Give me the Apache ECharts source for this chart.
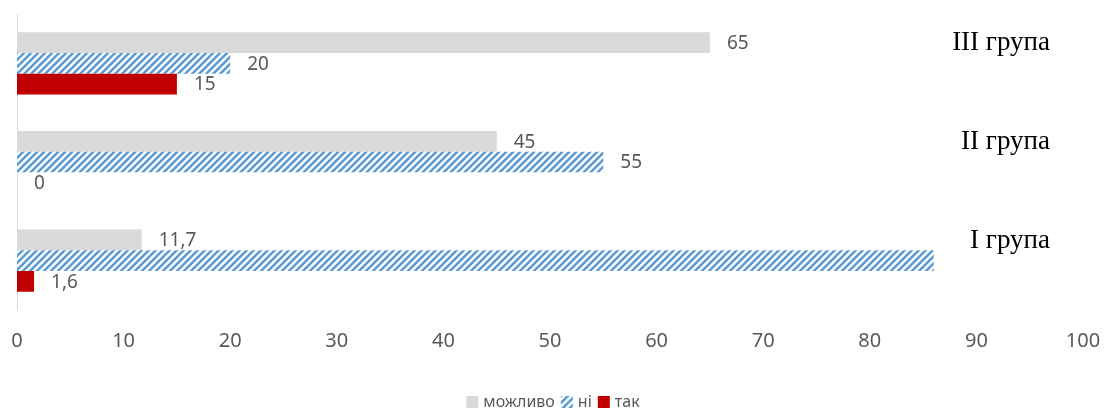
<!DOCTYPE html>
<html>
<head>
<meta charset="utf-8">
<script src="https://cdn.jsdelivr.net/npm/echarts@6/dist/echarts.min.js"></script>
<style>
html,body{margin:0;padding:0;background:#fff;}
#chart{width:1106px;height:416px;}
</style>
</head>
<body>
<div id="chart"></div>
<script>
// Data
var categories = ['I група', 'II група', 'III група'];
var seriesNames = ['можливо', 'ні', 'так'];
var valuesMozhlyvo = [11.7, 45, 65];
var valuesNi = [86, 55, 20];
var valuesTak = [1.6, 0, 15];
var hiddenLabelsNi = [true, false, false];
var xTicks = [0, 10, 20, 30, 40, 50, 60, 70, 80, 90, 100];

// hatch pattern
function makeHatch() {
  var s = 7;
  var c = document.createElement('canvas');
  c.width = s; c.height = s;
  var ctx = c.getContext('2d');
  ctx.fillStyle = '#ffffff';
  ctx.fillRect(0, 0, s, s);
  ctx.strokeStyle = '#5b9bd5';
  ctx.lineWidth = 2.6;
  ctx.beginPath();
  ctx.moveTo(-1, s + 1); ctx.lineTo(s + 1, -1);
  ctx.moveTo(-1, 1); ctx.lineTo(1, -1);
  ctx.moveTo(s - 1, s + 1); ctx.lineTo(s + 1, s - 1);
  ctx.stroke();
  return c;
}
var hatch = { image: makeHatch(), repeat: 'repeat' };

function fmt(p) { return String(p.value).replace('.', ','); }

var labelCommon = {
  show: true,
  position: 'right',
  distance: 17,
  offset: [0, 1],
  formatter: fmt,
  color: '#595959',
  fontFamily: 'Noto Sans',
  fontSize: 19
};

var chart = echarts.init(document.getElementById('chart'));
chart.setOption({
  animation: false,
  grid: { left: 17, right: 23, top: 14, bottom: 106, containLabel: false },
  legend: {
    data: seriesNames,
    bottom: 1,
    left: 'center',
    icon: 'rect',
    itemWidth: 12,
    itemHeight: 12,
    itemGap: 6,
    textStyle: { color: '#595959', fontFamily: 'Noto Sans', fontSize: 16 }
  },
  xAxis: {
    type: 'value',
    min: 0, max: 100, interval: 10,
    axisLine: { show: false },
    axisTick: { show: false },
    splitLine: { show: false },
    axisLabel: {
      color: '#595959', fontFamily: 'Noto Sans', fontSize: 20, margin: 21,
      formatter: function (v) { return xTicks.indexOf(v) >= 0 ? String(v) : ''; }
    }
  },
  yAxis: [{
    type: 'category',
    data: categories,
    axisLine: { show: true, lineStyle: { color: '#d9d9d9', width: 1 } },
    axisTick: { show: false },
    axisLabel: { show: false }
  }, {
    type: 'category',
    data: categories,
    position: 'right',
    axisLine: { show: false },
    axisTick: { show: false },
    axisLabel: {
      show: true,
      inside: true,
      margin: 33,
      align: 'right',
      color: '#000000',
      fontFamily: 'Liberation Serif',
      fontSize: 27,
      lineHeight: 40,
      formatter: function (v) { return v + '\n '; }
    }
  }],
  series: [{
    name: 'можливо',
    type: 'bar',
    yAxisIndex: 0,
    data: valuesMozhlyvo,
    barGap: '0%',
    barCategoryGap: '37%',
    itemStyle: { color: '#d9d9d9' },
    label: labelCommon
  }, {
    name: 'ні',
    type: 'bar',
    yAxisIndex: 0,
    data: valuesNi.map(function (v, i) {
      return hiddenLabelsNi[i] ? { value: v, label: { show: false } } : v;
    }),
    barGap: '0%',
    barCategoryGap: '37%',
    itemStyle: { color: hatch },
    label: labelCommon
  }, {
    name: 'так',
    type: 'bar',
    yAxisIndex: 0,
    data: valuesTak,
    barGap: '0%',
    barCategoryGap: '37%',
    itemStyle: { color: '#c00000' },
    label: labelCommon
  }]
});
</script>
</body>
</html>
